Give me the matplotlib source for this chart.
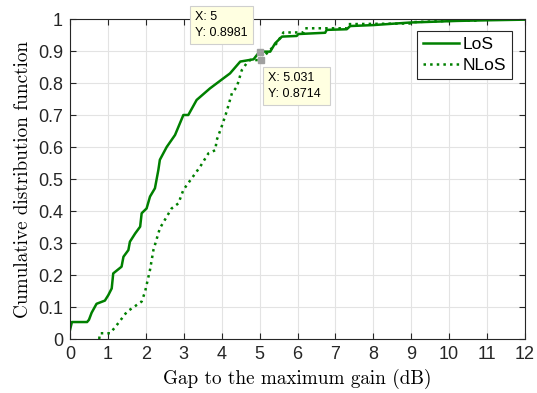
import matplotlib
matplotlib.use("Agg")
import matplotlib.pyplot as plt

los_x = [0, 0.05, 0.1, 0.45, 0.5, 0.57, 0.70, 0.92, 1.01, 1.10, 1.14, 1.36, 1.41, 1.54,
         1.58, 1.72, 1.85, 1.89, 2.02, 2.11, 2.24, 2.33, 2.37, 2.55, 2.77, 2.99, 3.12,
         3.34, 3.69, 4.05, 4.22, 4.49, 4.84, 5.0, 5.19, 5.28, 5.41, 5.59, 5.98, 6.02,
         6.73, 6.77, 7.30, 7.39, 8.0, 8.97, 10.2, 11.0, 12.0]
los_y = [0.028, 0.053, 0.053, 0.053, 0.06, 0.082, 0.11, 0.12, 0.137, 0.158, 0.205, 0.226,
         0.257, 0.278, 0.304, 0.33, 0.351, 0.393, 0.408, 0.445, 0.471, 0.528, 0.56, 0.60,
         0.6375, 0.70, 0.70, 0.747, 0.783, 0.815, 0.83, 0.867, 0.874, 0.8981, 0.898,
         0.898, 0.924, 0.945, 0.947, 0.953, 0.957, 0.966, 0.968, 0.978, 0.981, 0.989,
         0.994, 0.996, 0.998]

nlos_x = [0.77, 0.79, 1.06, 1.27, 1.50, 1.89, 1.98, 2.11, 2.20, 2.37, 2.68, 2.86, 2.99,
          3.21, 3.43, 3.65, 3.83, 3.87, 4.00, 4.13, 4.27, 4.40, 4.53, 4.66, 4.75, 5.031,
          5.23, 5.45, 5.63, 6.16, 6.20, 7.30, 7.34, 8.97, 9.0, 10.2, 10.77]
nlos_y = [0.0, 0.018, 0.018, 0.049, 0.085, 0.117, 0.148, 0.216, 0.278, 0.346, 0.408,
          0.424, 0.466, 0.502, 0.538, 0.58, 0.59, 0.622, 0.664, 0.71, 0.768, 0.788, 0.84,
          0.862, 0.872, 0.8714, 0.898, 0.924, 0.958, 0.958, 0.971, 0.971, 0.984, 0.986,
          0.99, 0.995, 0.995]

tips = [(5, 0.8981), (5.031, 0.8714)]

green = '#008000'
fig = plt.figure(figsize=(5.37, 3.93), dpi=100)
ax = fig.add_axes([70 / 537, 1 - 339 / 393, 455 / 537, 320 / 393])

ax.plot(los_x, los_y, color=green, lw=1.8, label='LoS')
ax.plot(nlos_x, nlos_y, color=green, lw=1.8, linestyle=':', label='NLoS')

# data tips
for (tx, ty) in tips:
    ax.plot(tx, ty, 's', color='#a0a0a0', ms=5, mec='#a0a0a0', zorder=5, clip_on=False)
box = dict(boxstyle='square,pad=0.4', fc='#ffffe1', ec='#cfcfcf', lw=0.8)
ax.text(3.3, 1.025, f"X: {tips[0][0]:g}\nY: {tips[0][1]:.4f}", fontsize=9,
        family='Liberation Sans', va='top', ha='left', bbox=box, linespacing=1.45, zorder=6)
box2 = dict(boxstyle='square,pad=0.4', fc='#ffffe1', ec='#cfcfcf', lw=0.8)
ax.text(5.23, 0.835, f"X: {tips[1][0]:g}   \nY: {tips[1][1]:.4f}", fontsize=9,
        family='Liberation Sans', va='top', ha='left', bbox=box2, linespacing=1.45, zorder=6)

ax.set_xlim(0, 12)
ax.set_ylim(0, 1)
ax.set_xticks(range(0, 13))
ax.set_yticks([i / 10 for i in range(11)])
ax.set_yticklabels(['0', '0.1', '0.2', '0.3', '0.4', '0.5', '0.6', '0.7', '0.8', '0.9', '1'])
ax.grid(True, color='#e3e3e3', lw=0.8)
ax.set_axisbelow(True)
ax.tick_params(direction='in', length=4, top=True, right=True, color='#262626',
               labelsize=13, labelcolor='#262626', pad=5)
for lab in ax.get_xticklabels() + ax.get_yticklabels():
    lab.set_family('Liberation Sans')
for s in ax.spines.values():
    s.set_color('#262626')
    s.set_linewidth(0.8)

ax.set_xlabel('Gap to the maximum gain (dB)', family='cmr10', fontsize=13.8, labelpad=4)
ax.set_ylabel('Cumulative distribution function', family='cmr10', fontsize=13.8, labelpad=4)

leg = ax.legend(loc='upper right', bbox_to_anchor=(0.972, 0.963), fancybox=False,
                edgecolor='#262626', framealpha=1, prop={'family': 'Liberation Sans', 'size': 12.5},
                handlelength=2.1, handletextpad=0.2, borderpad=0.35, labelspacing=0.35,
                borderaxespad=0)
leg.get_frame().set_linewidth(0.8)

fig.savefig('out.png', dpi=100)
